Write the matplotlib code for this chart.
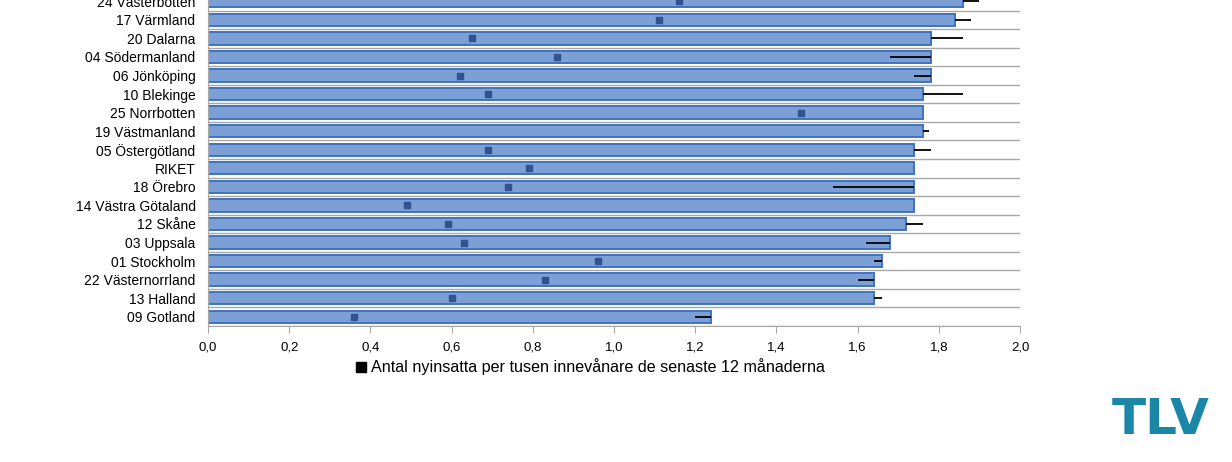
import numpy as np
import matplotlib.pyplot as plt
from matplotlib import rcParams
from matplotlib.lines import Line2D

rcParams['font.family'] = ['Liberation Sans', 'DejaVu Sans']

# Data (top to bottom as in the chart)
lan = ["24 Västerbotten", "17 Värmland", "20 Dalarna", "04 Södermanland",
       "06 Jönköping", "10 Blekinge", "25 Norrbotten", "19 Västmanland",
       "05 Östergötland", "RIKET", "18 Örebro", "14 Västra Götaland",
       "12 Skåne", "03 Uppsala", "01 Stockholm", "22 Västernorrland",
       "13 Halland", "09 Gotland"]
antal = [1.86, 1.84, 1.78, 1.78, 1.78, 1.76, 1.76, 1.76, 1.74, 1.74,
         1.74, 1.74, 1.72, 1.68, 1.66, 1.64, 1.64, 1.24]
# end of the black error line for each bar (same as bar = no line)
fel_slut = [1.90, 1.88, 1.86, 1.68, 1.74, 1.86, 1.76, 1.775, 1.78, 1.74,
            1.54, 1.74, 1.76, 1.62, 1.64, 1.60, 1.66, 1.20]
# small dark markers
punkt = [1.16, 1.11, 0.65, 0.86, 0.62, 0.69, 1.46, np.nan, 0.69, 0.79,
         0.74, 0.49, 0.59, 0.63, 0.96, 0.83, 0.60, 0.36]
xticks = [0.0, 0.2, 0.4, 0.6, 0.8, 1.0, 1.2, 1.4, 1.6, 1.8, 2.0]
legend_text = "Antal nyinsatta per tusen innevånare de senaste 12 månaderna"

antal = np.array(antal)
fel_slut = np.array(fel_slut)
n = len(lan)
y = np.arange(n)[::-1]

fig = plt.figure(figsize=(12.32, 4.62), dpi=100)
ax = fig.add_axes([208/1232, 136/462, 812/1232, 334/462])

ax.barh(y, antal, height=0.66, color="#7c9fd6", edgecolor="#3f72c0", linewidth=1.4, zorder=2)

# error lines
xerr = [np.clip(antal - fel_slut, 0, None), np.clip(fel_slut - antal, 0, None)]
ax.errorbar(antal, y, xerr=xerr, fmt="none", ecolor="black", elinewidth=1.3, capsize=0, zorder=4)

ax.plot(punkt, y, "s", color="#34528f", markersize=4, linestyle="none", zorder=3)

# horizontal separators
for b in np.arange(-0.5, n, 1.0):
    ax.axhline(b, color="#a8a8a8", linewidth=1.0, zorder=1)

ax.set_xlim(0, 2.0)
ax.set_ylim(-0.5, n - 0.5)
ax.set_yticks(y)
ax.set_yticklabels(lan, fontsize=10)
ax.tick_params(axis="y", length=0, pad=9)
ax.set_xticks(xticks)
ax.set_xticklabels(["{:.1f}".format(t).replace(".", ",") for t in xticks], fontsize=9.5,
                   family=["Liberation Sans Narrow", "Liberation Sans"])
ax.tick_params(axis="x", length=5, color="#a8a8a8", direction="out", pad=6)

for s in ["top", "right"]:
    ax.spines[s].set_visible(False)
ax.spines["bottom"].set_color("#a8a8a8")
ax.spines["left"].set_color("#a8a8a8")

leg = fig.legend([Line2D([0], [0], marker="s", color="black", linestyle="none", markersize=7)],
                 [legend_text], loc="center", bbox_to_anchor=(589/1232, 1 - 367/462),
                 frameon=False, fontsize=11.6, handletextpad=0.1, handlelength=1.0)

fig.text(1161/1232, 1 - 420/462, "TLV", color="#1b86a6", fontsize=36, fontweight="bold",
         ha="center", va="center", family="Liberation Sans Narrow")

fig.savefig("out.png", dpi=100)
